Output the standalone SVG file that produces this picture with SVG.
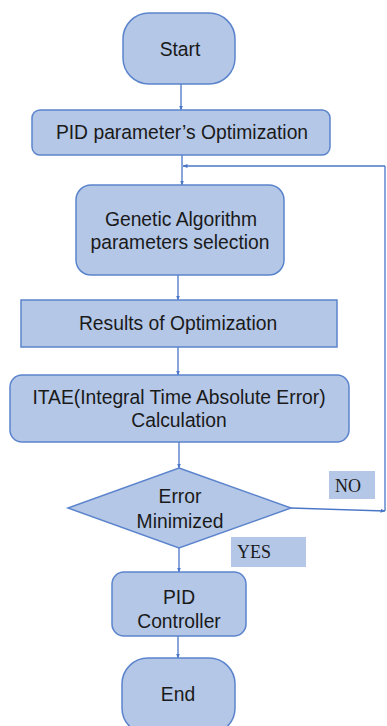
<svg xmlns="http://www.w3.org/2000/svg" width="387" height="726" viewBox="0 0 387 726">
<defs>
<style>
.n{fill:#b4c7e7;stroke:#5b84cc;stroke-width:1.5}
.t{font-family:"Liberation Sans",Arial,sans-serif;font-size:19.3px;fill:#1a1a1a;text-anchor:middle}
.s{font-family:"Liberation Serif","Times New Roman",serif;font-size:18px;fill:#1a1a1a}
.c{fill:none;stroke:#4a76c8;stroke-width:1.3}
.lb{fill:#b4c7e7}
</style>
<marker id="a" viewBox="0 0 10 10" refX="9" refY="5" markerWidth="5" markerHeight="5" orient="auto-start-reverse" markerUnits="userSpaceOnUse">
<path d="M0,1 L10,5 L0,9 z" fill="#4a76c8"/>
</marker>
</defs>
<rect width="387" height="726" fill="#ffffff"/>
<g id="connectors">
<path class="c" d="M181,84 V110" marker-end="url(#a)"/>
<path class="c" d="M182,155 V185" marker-end="url(#a)"/>
<path class="c" d="M385,166 H183" marker-end="url(#a)"/>
<path class="c" d="M385,511 V166"/>
<path class="c" d="M291,508 L385,511" marker-end="url(#a)"/>
<path class="c" d="M178,275 V300" marker-end="url(#a)"/>
<path class="c" d="M178,347 V375" marker-end="url(#a)"/>
<path class="c" d="M179,442 V468" marker-end="url(#a)"/>
<path class="c" d="M179,548 V572" marker-end="url(#a)"/>
<path class="c" d="M178,636 V658" marker-end="url(#a)"/>
</g>
<g id="start">
<rect class="n" x="123" y="13" width="112" height="71" rx="26" ry="26"/>
<text class="t" x="180" y="56">Start</text>
</g>
<g id="pid-opt">
<rect class="n" x="32" y="110" width="298" height="45" rx="8"/>
<text class="t" x="182" y="139">PID parameter’s Optimization</text>
</g>
<g id="ga">
<rect class="n" x="76" y="185" width="208" height="90" rx="15"/>
<text class="t" x="181" y="226">Genetic Algorithm</text>
<text class="t" x="180" y="249">parameters selection</text>
</g>
<g id="results">
<rect class="n" x="21" y="300" width="316" height="47"/>
<text class="t" x="178" y="330">Results of Optimization</text>
</g>
<g id="itae">
<rect class="n" x="10" y="375" width="339" height="67" rx="12"/>
<text class="t" x="179" y="404">ITAE(Integral Time Absolute Error)</text>
<text class="t" x="179" y="427">Calculation</text>
</g>
<g id="decision">
<polygon class="n" points="179,468 291,508 179,548 68,508"/>
<text class="t" x="180" y="503">Error</text>
<text class="t" x="180" y="528">Minimized</text>
</g>
<g id="no-label">
<rect class="lb" x="329" y="471" width="46" height="28"/>
<text class="s" x="335" y="492">NO</text>
</g>
<g id="yes-label">
<rect class="lb" x="231" y="537" width="75" height="30"/>
<text class="s" x="237" y="558">YES</text>
</g>
<g id="pid-ctrl">
<rect class="n" x="112" y="572" width="134" height="64" rx="12"/>
<text class="t" x="179" y="604">PID</text>
<text class="t" x="179" y="628">Controller</text>
</g>
<g id="end">
<rect class="n" x="122" y="658" width="113" height="76" rx="26" ry="26"/>
<text class="t" x="178" y="701">End</text>
</g>
</svg>
